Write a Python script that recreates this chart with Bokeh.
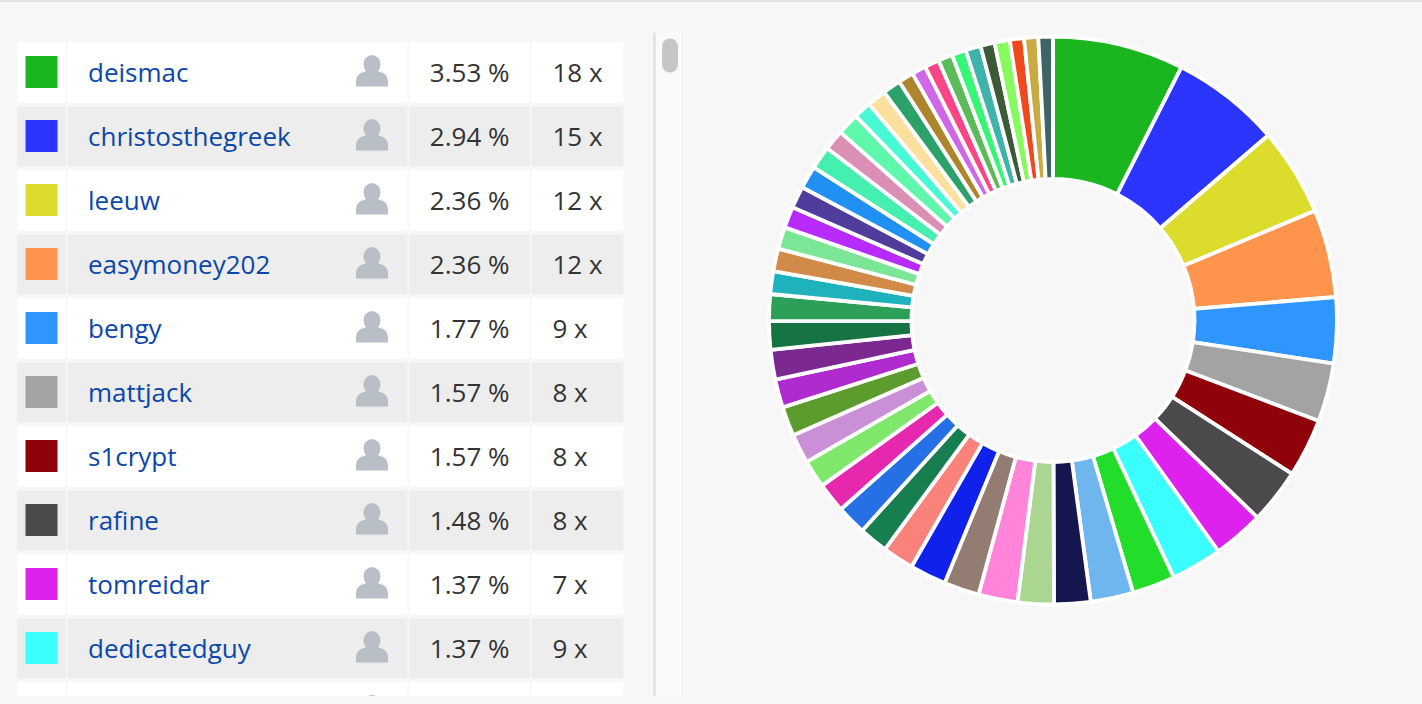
import numpy as np
from bokeh.plotting import figure
from bokeh.embed import file_html
from bokeh.resources import INLINE
from bokeh.core.properties import value
from bokeh.models import ColumnDataSource

names = ["deismac", "christosthegreek", "leeuw", "easymoney202", "bengy",
         "mattjack", "s1crypt", "rafine", "tomreidar", "dedicatedguy"]
pct_labels = ["3.53 %", "2.94 %", "2.36 %", "2.36 %", "1.77 %",
              "1.57 %", "1.57 %", "1.48 %", "1.37 %", "1.37 %"]
count_labels = ["18 x", "15 x", "12 x", "12 x", "9 x", "8 x", "8 x", "8 x", "7 x", "9 x"]
shares = [3.53, 2.94, 2.36, 2.36, 1.77, 1.57, 1.57, 1.48, 1.37, 1.37,
          1.15, 1.15, 0.98, 0.97, 1.05, 0.95, 0.98, 0.84, 0.78, 0.80, 0.80,
          0.75, 0.79, 0.79, 0.76, 0.80, 0.76, 0.72, 0.61, 0.61, 0.59, 0.57,
          0.59, 0.61, 0.62, 0.55, 0.59, 0.47, 0.51, 0.49, 0.41, 0.38, 0.39,
          0.39, 0.38, 0.41, 0.38, 0.41, 0.38, 0.38, 0.39]
colors = ["#1bb51f", "#2c35ff", "#dcdc2c", "#ff954d", "#2f96ff", "#a3a3a3", "#8f0209",
          "#4a4a4a", "#dc22ec", "#3bffff", "#22dd2a", "#6fb6ee", "#15164f", "#aad692",
          "#ff84da", "#937d72", "#1121ec", "#f9837a", "#167e4f", "#2470e4", "#e528ae",
          "#7fe76c", "#ca8fd6", "#5c9c2f", "#b02bcf", "#7b2890", "#167342", "#2ca058",
          "#1eb3bc", "#d18a48", "#7be696", "#b72bff", "#4f3c9b", "#2090f2", "#44efb0",
          "#db8fb5", "#5ef7ab", "#48f9d6", "#fde09e", "#2aa26a", "#ad852f", "#d066e8",
          "#fb4587", "#5bbb58", "#36f676", "#3eb3ac", "#3c5a38", "#86fb5e", "#f2481e",
          "#c9ab42", "#3f6465"]

W, H = 1406, 688
BG = "#f7f7f7"
FONT = value("Open Sans")


def sx(x):
    return np.asarray(x, dtype=float) - 9


def sy(y):
    return 696 - np.asarray(y, dtype=float)


p = figure(width=W, height=H, x_range=(0, W), y_range=(0, H), output_backend="svg",
           toolbar_location=None, min_border=0, background_fill_color=BG,
           border_fill_color=BG, outline_line_color=None)
p.axis.visible = False
p.grid.visible = False

# table
ROW_TOP, ROW_H, PITCH = 42, 60, 64
cols = [(18, 66), (68, 408), (410, 530), (532, 624)]
n_rows = len(names) + 1
l, r, t, b, fc = [], [], [], [], []
for i in range(n_rows):
    top = ROW_TOP + i * PITCH
    for c in cols:
        l.append(c[0]); r.append(c[1]); t.append(top); b.append(top + ROW_H)
        fc.append("#ededed" if i % 2 else "#ffffff")
p.quad(left=sx(l), right=sx(r), top=sy(t), bottom=sy(b), fill_color=fc, line_color=None)

centers = np.array([ROW_TOP + i * PITCH + ROW_H / 2 for i in range(len(names))])

# swatches
p.quad(left=sx(np.full(10, 26)), right=sx(np.full(10, 58)), top=sy(centers - 16.5),
       bottom=sy(centers + 15.5), fill_color=colors[:10], line_color=None)

# person icons
ICON = "#b8bfc6"
all_centers = [ROW_TOP + i * PITCH + ROW_H / 2 for i in range(n_rows)]
for cy in all_centers:
    p.ellipse(x=[float(sx(372.5))], y=[float(sy(cy - 8))], width=17, height=19,
              fill_color=ICON, line_color=None)
    bx = 372.5 + np.array([-16, -16, -15, -12, -7, -3, 3, 7, 12, 15, 16, 16])
    by = cy + np.array([14, 8, 4, 1, -1, -2, -2, -1, 1, 4, 8, 14])
    p.patch(sx(bx), sy(by), fill_color=ICON, line_color=None)

# texts
p.text(x=sx(np.full(10, 88.5)), y=sy(centers - 1), text=names, text_font=FONT, text_font_size="26px",
       text_color="#0b47ab", text_baseline="middle", text_align="left")
p.text(x=sx(np.full(10, 510)), y=sy(centers - 1), text=pct_labels, text_font=FONT, text_font_size="26px",
       text_color="#333333", text_baseline="middle", text_align="right")
p.text(x=sx(np.full(10, 553)), y=sy(centers - 1), text=count_labels, text_font=FONT, text_font_size="26px",
       text_color="#333333", text_baseline="middle", text_align="left")

# scrollbar
p.quad(left=sx([655]), right=sx([683]), top=sy([32]), bottom=sy([696]), fill_color="#fafafa", line_color=None)
p.segment(x0=sx([655]), x1=sx([655]), y0=sy([32]), y1=sy([696]), line_color="#dcdcdc", line_width=2)
p.segment(x0=sx([683]), x1=sx([683]), y0=sy([32]), y1=sy([696]), line_color="#f0f0f0", line_width=1)
p.segment(x0=sx([670.5]), x1=sx([670.5]), y0=sy([46]), y1=sy([64]), line_color="#c6c6c6", line_width=16, line_cap="round")

# donut
vals = np.array(shares)
cum = np.concatenate([[0], np.cumsum(vals)]) / vals.sum() * 2 * np.pi
src = ColumnDataSource(dict(start=np.pi / 2 - cum[:-1], end=np.pi / 2 - cum[1:], color=colors))
p.annular_wedge(x=float(sx(1053.5)), y=float(sy(320)), inner_radius=141.5, outer_radius=284,
                start_angle="start", end_angle="end", direction="clock", source=src,
                fill_color="color", line_color="#ffffff", line_width=3.8)

html = file_html(p, INLINE)
css = ("<style>html{background:#f7f7f7;border-top:2px solid #e2e2e2}"
       "body{background:#f7f7f7;margin:6px 8px 0 8px}</style>")
html = html.replace("</head>", css + "</head>", 1)
open("out.html", "w").write(html)
